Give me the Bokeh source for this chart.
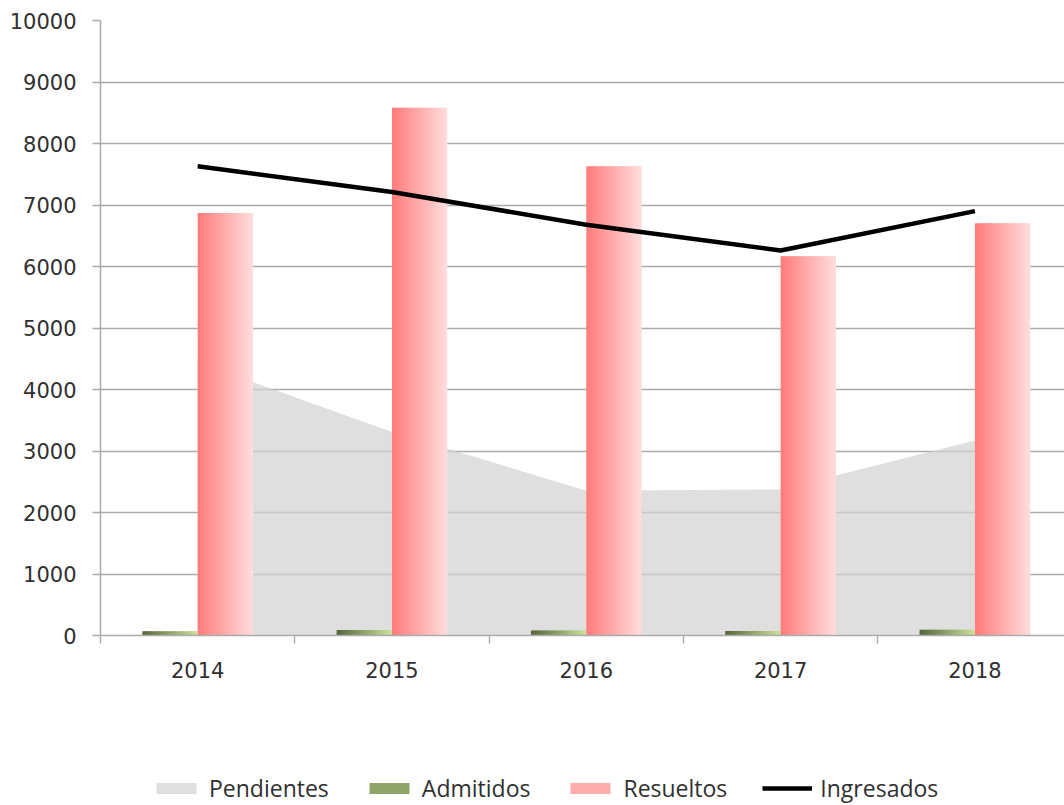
from bokeh.plotting import figure
from bokeh.layouts import column
from bokeh.models import FixedTicker, Legend, LegendItem, Range1d
from bokeh.embed import file_html
from bokeh.resources import INLINE

years = ["2014", "2015", "2016", "2017", "2018"]
pendientes = [4440, 3310, 2355, 2375, 3170]
admitidos = [70, 90, 80, 75, 93]
resueltos = [6870, 8580, 7630, 6165, 6705]
ingresados = [7630, 7210, 6680, 6260, 6900]
y_ticks = list(range(0, 10001, 1000))
series_names = ["Pendientes", "Admitidos", "Resueltos", "Ingresados"]

x = list(range(len(years)))

GRID = "#ABABAB"
TXT = "#303030"
AREA_COLOR = "#D2D2D2"
GREEN_L, GREEN_R = (88, 104, 60), (200, 224, 152)
PINK_L, PINK_R = (255, 125, 125), (255, 220, 220)

p = figure(width=1064, height=695,
           x_range=Range1d(-0.5, 4.461), y_range=Range1d(0, 10000),
           output_backend="svg", toolbar_location=None,
           min_border_left=100, min_border_right=0,
           min_border_top=20, min_border_bottom=60)
p.outline_line_color = None
p.background_fill_color = "white"
p.border_fill_color = "white"

# Pendientes area
area = p.varea(x=x, y1=[0] * len(x), y2=pendientes,
               fill_color=AREA_COLOR, fill_alpha=0.7)


def lerp(c1, c2, t):
    return "#%02x%02x%02x" % tuple(int(round(a + (b - a) * t)) for a, b in zip(c1, c2))


def gradient_bars(values, offset, width, c_left, c_right, n=24):
    sw = width / n
    for i in range(n):
        t = i / (n - 1)
        w = sw * 1.5 if i < n - 1 else sw
        left = offset - width / 2 + sw * i
        xs = [xi + left + w / 2 for xi in x]
        p.vbar(x=xs, top=values, bottom=0, width=w,
               fill_color=lerp(c_left, c_right, t), line_color=None)


BW = 0.285
gradient_bars(admitidos, -BW / 2, BW, GREEN_L, GREEN_R)
gradient_bars(resueltos, BW / 2, BW, PINK_L, PINK_R)

p.line(x, ingresados, line_color="black", line_width=4.5)

# axes
p.yaxis.ticker = FixedTicker(ticks=y_ticks)
p.yaxis.major_tick_out = 8
p.yaxis.major_tick_in = 0
p.yaxis.minor_tick_out = 0
p.yaxis.minor_tick_in = 0
p.yaxis.axis_line_color = GRID
p.yaxis.axis_line_width = 1.5
p.yaxis.major_tick_line_color = GRID
p.yaxis.major_tick_line_width = 1.5
p.yaxis.major_label_standoff = 16
p.yaxis.major_label_text_font = "DejaVu Sans"
p.yaxis.major_label_text_font_size = "21px"
p.yaxis.major_label_text_color = TXT

p.xaxis.ticker = FixedTicker(ticks=x, minor_ticks=[i - 0.5 for i in range(len(x) + 1)])
p.xaxis.major_label_overrides = {i: y for i, y in enumerate(years)}
p.xaxis.major_tick_out = 0
p.xaxis.major_tick_in = 0
p.xaxis.major_tick_line_color = None
p.xaxis.minor_tick_out = 8
p.xaxis.minor_tick_in = 0
p.xaxis.minor_tick_line_color = GRID
p.xaxis.minor_tick_line_width = 1.5
p.xaxis.axis_line_color = GRID
p.xaxis.axis_line_width = 1.5
p.xaxis.major_label_standoff = 18
p.xaxis.major_label_text_font = "DejaVu Sans"
p.xaxis.major_label_text_font_size = "21px"
p.xaxis.major_label_text_color = TXT

p.xgrid.visible = False
p.ygrid.ticker = FixedTicker(ticks=y_ticks)
p.ygrid.grid_line_color = GRID
p.ygrid.grid_line_width = 1.5

# legend strip below the chart (swatch glyphs sit outside its visible range)
lg = figure(width=1064, height=110, x_range=Range1d(0, 1), y_range=Range1d(0, 1),
            output_backend="svg", toolbar_location=None,
            min_border_left=0, min_border_right=0, min_border_top=0, min_border_bottom=0)
lg.axis.visible = False
lg.grid.visible = False
lg.outline_line_color = None
lg.background_fill_color = "white"
lg.border_fill_color = "white"

off_x = [5.0, 6.0]
off_y = [5.0, 5.0]
l_area = lg.varea(x=off_x, y1=off_y, y2=[6.0, 6.0], fill_color=AREA_COLOR, fill_alpha=0.7)
l_adm = lg.vbar(x=off_x, top=[6.0, 6.0], bottom=off_y, width=0.1,
                fill_color=lerp(GREEN_L, GREEN_R, 0.5), line_color=None)
l_res = lg.vbar(x=off_x, top=[6.0, 6.0], bottom=off_y, width=0.1,
                fill_color=lerp(PINK_L, PINK_R, 0.5), line_color=None)
l_ing = lg.line(x=off_x, y=off_y, line_color="black", line_width=4.5)

legend = Legend(items=[
    LegendItem(label=series_names[0], renderers=[l_area]),
    LegendItem(label=series_names[1], renderers=[l_adm]),
    LegendItem(label=series_names[2], renderers=[l_res]),
    LegendItem(label=series_names[3], renderers=[l_ing]),
], orientation="horizontal", location=(51, 1),
    glyph_width=50, glyph_height=14, label_standoff=8, spacing=35,
    padding=0, margin=0, border_line_color=None, background_fill_alpha=0,
    label_text_font="Open Sans", label_text_font_size="23px", label_text_color=TXT)
lg.add_layout(legend)

open("out.html", "w").write(file_html(column(p, lg, spacing=0), INLINE))
